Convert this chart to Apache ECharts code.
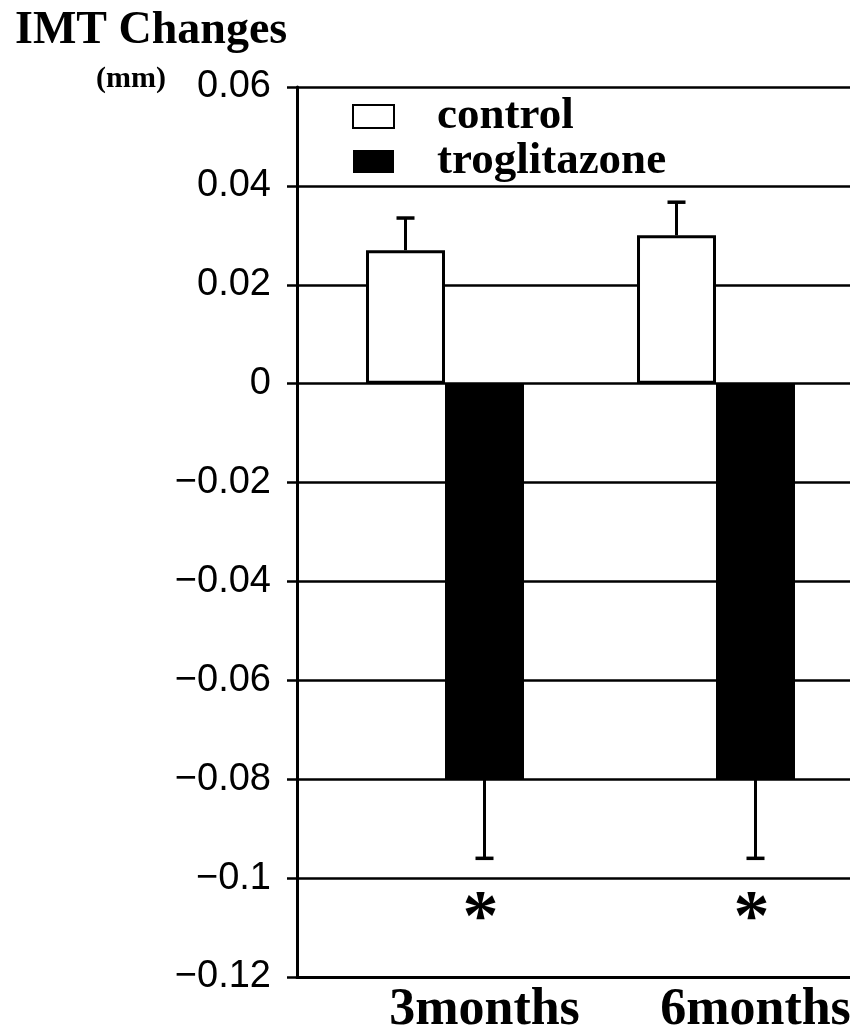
<!DOCTYPE html>
<html>
<head>
<meta charset="utf-8">
<script src="https://cdn.jsdelivr.net/npm/echarts@6/dist/echarts.min.js"></script>
<style>html,body{margin:0;padding:0;background:#fff}#c{width:850px;height:1031px}</style>
</head>
<body>
<div id="c"></div>
<script>
const categories = ['3months', '6months'];
const controlMeans = [0.027, 0.030];
const controlErr = [0.0065, 0.0067];
const trogMeans = [-0.080, -0.080];
const trogErr = [0.016, 0.016];
const significant = [true, true];
const yTickValues = [-0.12, -0.1, -0.08, -0.06, -0.04, -0.02, 0, 0.02, 0.04, 0.06];
const yTickLabels = ['\u22120.12', '\u22120.1', '\u22120.08', '\u22120.06', '\u22120.04', '\u22120.02', '0', '0.02', '0.04', '0.06'];
const starValue = -0.1085;

const BAR_FRAC = 0.2915;
const serif = '"Liberation Serif", "Times New Roman", serif';
const sans = '"Liberation Sans", Arial, sans-serif';

function tickLabel(v) {
  for (let i = 0; i < yTickValues.length; i++) {
    if (Math.abs(yTickValues[i] - v) < 1e-6) return yTickLabels[i];
  }
  return '';
}

// error-bar data: [categoryIndex, mean, end, slot]
const errData = [];
categories.forEach((c, i) => {
  errData.push([i, controlMeans[i], controlMeans[i] + controlErr[i], -1]);
  errData.push([i, trogMeans[i], trogMeans[i] - trogErr[i], 0]);
});
const starData = categories.map((c, i) => significant[i] ? [i, starValue] : null).filter(d => d);

const chart = echarts.init(document.getElementById('c'), null, {renderer: 'canvas'});
chart.setOption({
  backgroundColor: '#fff',
  animation: false,
  title: [
    {text: 'IMT Changes', left: 15, top: 8, padding: 0,
     textStyle: {fontFamily: serif, fontWeight: 'bold', fontSize: 46, lineHeight: 46, color: '#000'}},
    {text: '(mm)', left: 96, top: 64, padding: 0,
     textStyle: {fontFamily: serif, fontWeight: 'bold', fontSize: 30, lineHeight: 30, color: '#000'}}
  ],
  legend: {
    data: ['control', 'troglitazone'],
    orient: 'vertical',
    left: 352, top: 94, padding: 0,
    itemWidth: 41, itemHeight: 23, itemGap: 0,
    icon: 'rect',
    textStyle: {fontFamily: serif, fontWeight: 'bold', fontSize: 45, lineHeight: 31, color: '#000', padding: [8, 0, 0, 38]}
  },
  grid: [
    {left: 297, width: 553, top: 87, bottom: 54, outerBoundsMode: 'none', containLabel: false},
    {left: 349, width: 542, top: 87, bottom: 54, outerBoundsMode: 'none', containLabel: false}
  ],
  xAxis: [
    {gridIndex: 0, type: 'value', min: 0, max: 1, position: 'bottom',
     axisLine: {show: true, onZero: false, lineStyle: {color: '#000', width: 3}},
     axisTick: {show: false}, axisLabel: {show: false}, splitLine: {show: false}},
    {gridIndex: 1, type: 'category', data: categories, position: 'bottom',
     axisLine: {show: false, onZero: false}, axisTick: {show: false},
     axisLabel: {fontFamily: serif, fontWeight: 'bold', fontSize: 52, color: '#000', margin: 8, lineHeight: 52}}
  ],
  yAxis: [
    {gridIndex: 0, type: 'value', min: -0.12, max: 0.06, interval: 0.02,
     axisLine: {show: true, lineStyle: {color: '#000', width: 3}},
     axisTick: {show: true, inside: false, length: 10, lineStyle: {color: '#000', width: 2.5}},
     axisLabel: {fontFamily: sans, fontSize: 38, color: '#000', margin: 26, formatter: tickLabel},
     splitLine: {show: true, lineStyle: {color: '#000', width: 2.5}}},
    {gridIndex: 1, type: 'value', min: -0.12, max: 0.06, interval: 0.02,
     axisLine: {show: false}, axisTick: {show: false}, axisLabel: {show: false}, splitLine: {show: false}}
  ],
  series: [
    {name: 'control', type: 'bar', xAxisIndex: 1, yAxisIndex: 1, data: controlMeans,
     barWidth: (BAR_FRAC * 100) + '%', barGap: '0%',
     itemStyle: {color: '#fff', borderColor: '#000', borderWidth: 3}},
    {name: 'troglitazone', type: 'bar', xAxisIndex: 1, yAxisIndex: 1, data: trogMeans,
     barWidth: (BAR_FRAC * 100) + '%', barGap: '0%',
     itemStyle: {color: '#000', borderColor: '#000', borderWidth: 0}},
    {name: 'spacer', type: 'bar', xAxisIndex: 1, yAxisIndex: 1, data: categories.map(() => null),
     barWidth: (BAR_FRAC * 100) + '%', barGap: '0%', itemStyle: {color: 'transparent'}},
    {name: 'err', type: 'custom', xAxisIndex: 1, yAxisIndex: 1, data: errData, z: 5,
     renderItem: function (params, api) {
       const cat = api.value(0);
       const band = api.size([1, 0])[0];
       const bw = band * BAR_FRAC;
       const p0 = api.coord([cat, api.value(1)]);
       const p1 = api.coord([cat, api.value(2)]);
       const x = p0[0] + api.value(3) * bw;
       const cap = 9;
       return {type: 'group', children: [
         {type: 'line', shape: {x1: x, y1: p0[1], x2: x, y2: p1[1]}, style: {stroke: '#000', lineWidth: 3}},
         {type: 'line', shape: {x1: x - cap, y1: p1[1], x2: x + cap, y2: p1[1]}, style: {stroke: '#000', lineWidth: 3.5}}
       ]};
     }},
    {name: 'star', type: 'custom', xAxisIndex: 1, yAxisIndex: 1, data: starData, z: 5,
     renderItem: function (params, api) {
       const p = api.coord([api.value(0), api.value(1)]);
       return {type: 'text', x: p[0] - 4, y: p[1],
         style: {text: '*', fontFamily: serif, fontWeight: 'bold', fontSize: 72, fill: '#000', align: 'center', verticalAlign: 'middle'}};
     }}
  ]
});
</script>
</body>
</html>
